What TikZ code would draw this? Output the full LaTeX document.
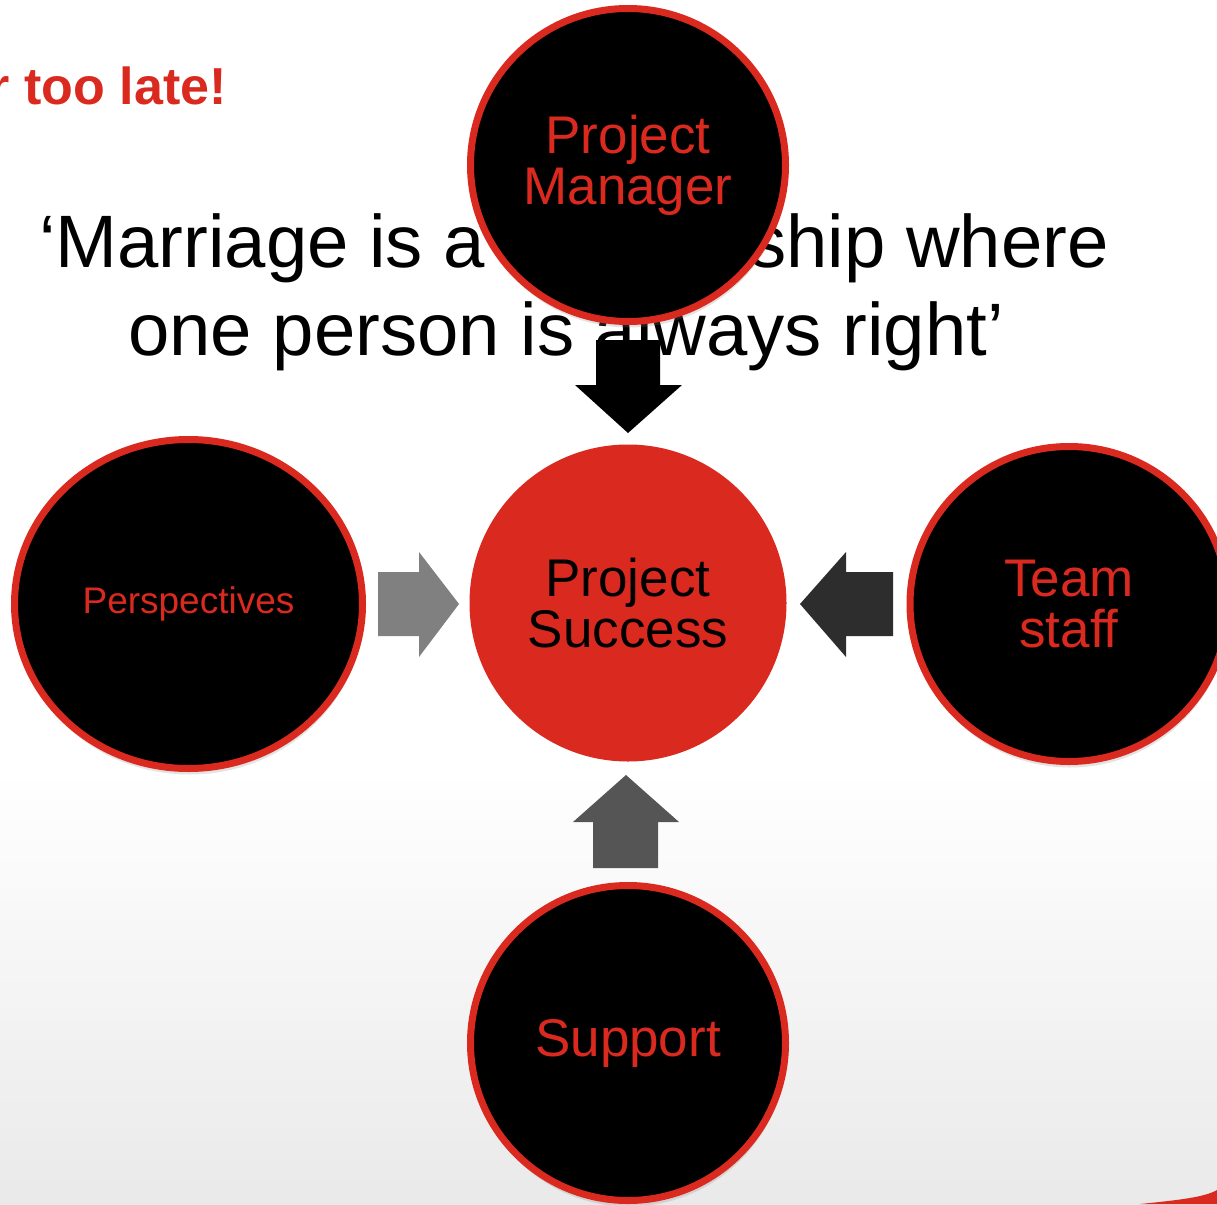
\documentclass[tikz,border=0pt]{standalone}
\usepackage{fontspec}
\setmainfont{Liberation Sans}
\usetikzlibrary{shapes.geometric,shadows}
\definecolor{ured}{RGB}{218,41,30}
\definecolor{arrA}{RGB}{0,0,0}
\definecolor{arrB}{RGB}{128,128,128}
\definecolor{arrC}{RGB}{45,45,45}
\definecolor{arrD}{RGB}{85,85,85}
\begin{document}
\begin{tikzpicture}[x=1pt,y=-1pt,
  bubble/.style={ellipse, draw=ured, line width=7pt, fill=black, text=ured, align=center, inner sep=0pt,
    drop shadow={opacity=0.22, shadow xshift=1pt, shadow yshift=-6pt}},
  hub/.style={ellipse, fill=ured, text=black, align=center, inner sep=0pt},
  blockarrow/.style={draw=none},
  quote/.style={text=black, inner sep=0pt, font=\fontsize{74.3}{88}\selectfont},
  bigfont/.style={font=\fontsize{53}{55}\selectfont}
]
\path[use as bounding box] (0,0) rectangle (1217,1204);
\clip (0,0) rectangle (1217,1204);
% background
\fill[white] (0,0) rectangle (1217,1204);
\shade[top color=white, bottom color=gray!17] (0,770) rectangle (1217,1204);
\fill[ured] (1140,1204) .. controls (1180,1200) and (1205,1197) .. (1217,1190) -- (1217,1204) -- cycle;

% heading fragment
\node[anchor=base east, inner sep=0pt, text=ured, font=\fontsize{52}{60}\selectfont\bfseries] (late) at (227,105) {r too late!};

% quote
\node[quote, anchor=base] (q1) at (574,267) {‘Marriage is a relationship where};
\node[quote, anchor=base] (q2) at (566,355) {one person is always right’};

% block arrows
\fill[arrA, blockarrow] (596,340) -- (660,340) -- (660,385) -- (682,385) -- (628,433) -- (575,385) -- (596,385) -- cycle;
\fill[arrB, blockarrow] (378,572) -- (419,572) -- (419,552) -- (459,604) -- (419,657) -- (419,636) -- (378,636) -- cycle;
\fill[arrC, blockarrow] (893,572) -- (846,572) -- (846,552) -- (800,604) -- (846,657) -- (846,636) -- (893,636) -- cycle;
\fill[arrD, blockarrow] (626,775) -- (679,822) -- (658,822) -- (658,868) -- (593,868) -- (593,822) -- (573,822) -- cycle;

% circles
\node[hub, minimum width=317pt, minimum height=317pt, bigfont] (ps) at (628,603) {Project\\[-4pt]Success};
\node[bubble, minimum width=315pt, minimum height=313pt, bigfont] (pm) at (628,165) {Project\\[-4pt]Manager};
\node[bubble, minimum width=348pt, minimum height=329pt, font=\fontsize{37}{40}\selectfont] (pe) at (188.5,604) {Perspectives};
\node[bubble, minimum width=318pt, minimum height=315pt, bigfont] (ts) at (1069,604) {Team\\[-4pt]staff};
\node[bubble, minimum width=315pt, minimum height=315pt, bigfont] (su) at (628,1043) {Support};
\end{tikzpicture}
\end{document}
